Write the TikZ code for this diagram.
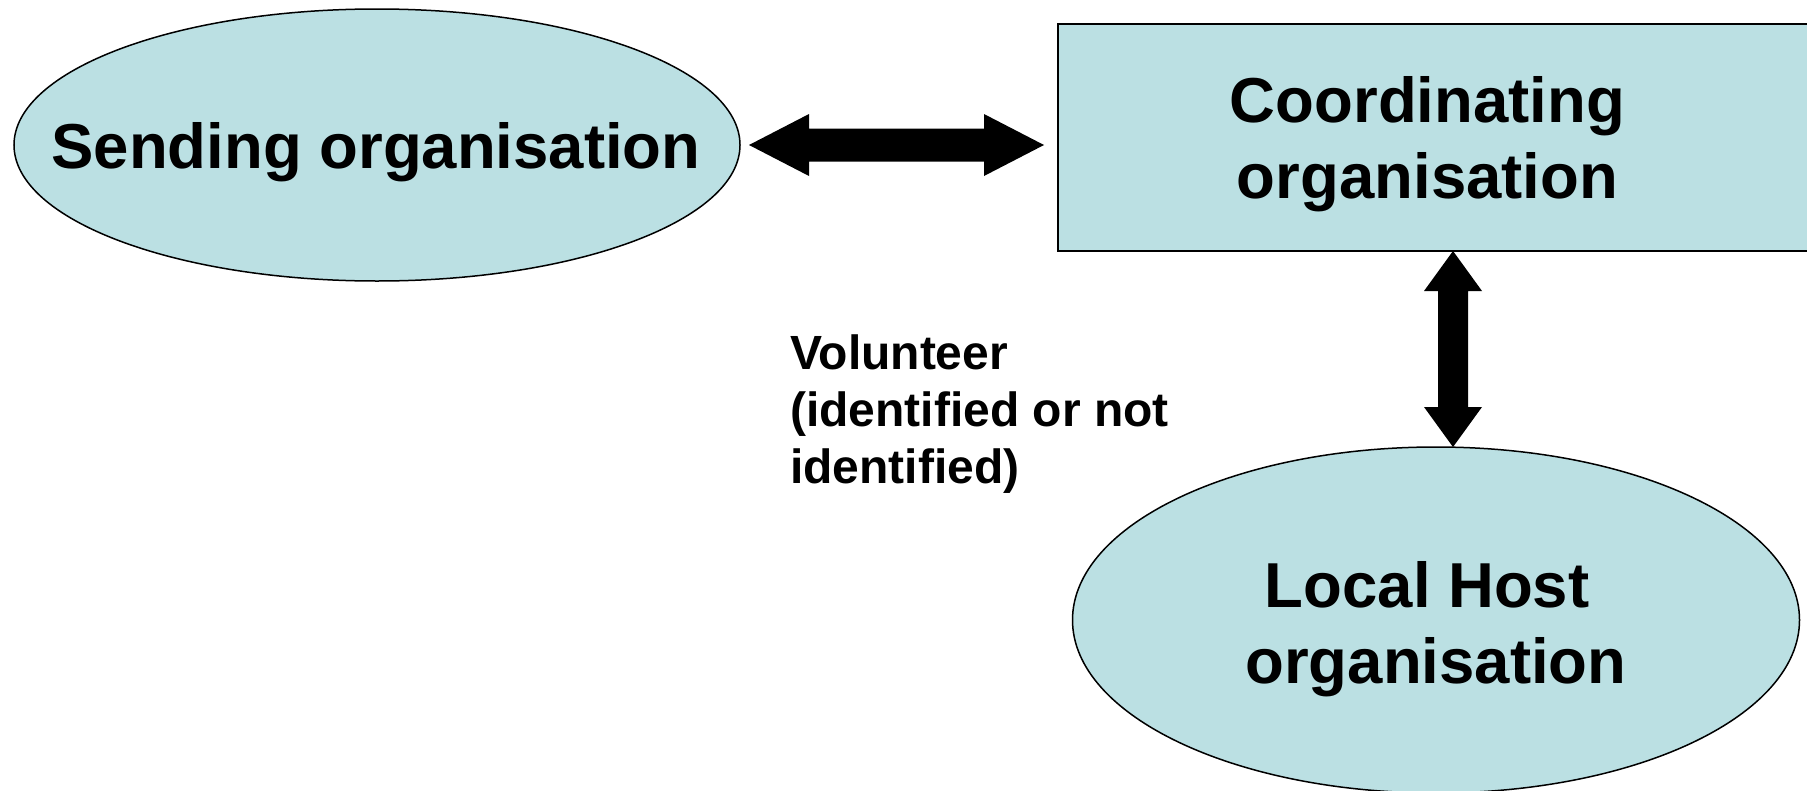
\documentclass[tikz,border=0pt]{standalone}
\usepackage{fontspec}
\setmainfont{Liberation Sans}
\usetikzlibrary{calc,shapes.geometric}
\definecolor{boxfill}{RGB}{187,224,227}
\tikzset{
  orgshape/.style={draw=black, line width=1.5pt, fill=boxfill, inner sep=0pt, outer sep=0pt},
  orgellipse/.style={orgshape, ellipse},
  orgrect/.style={orgshape, rectangle, line width=2pt},
  bigtext/.style={font=\bfseries\fontsize{63.5}{75.8}\selectfont, inner sep=0pt, align=center},
  smalltext/.style={font=\bfseries\fontsize{48}{57.4}\selectfont, inner sep=0pt, align=left},
  fatarrow/.style={fill=black, draw=none}
}
\begin{document}
\begin{tikzpicture}[x=1pt,y=-1pt]
\useasboundingbox (0,0) rectangle (1807,790);
\clip (0,0) rectangle (1807,790);
% shapes
\node[orgellipse, minimum width=726pt, minimum height=272pt] (send) at (377,145) {};
\node[orgrect, minimum width=780pt, minimum height=227pt, anchor=north west] (coord) at (1058,24) {};
\node[orgellipse, minimum width=727pt, minimum height=346pt] (host) at (1436,620) {};
% texts
\node[bigtext, text height=45.5pt, text depth=0pt] (sendtext) at (376,145.3) {Sending organisation};
\node[bigtext] (coordtext) at (1427.5,144.5) {Coordinating\\organisation};
\node[bigtext] (hosttext) at (1436,629) {Local Host\hspace*{0.278em}\\organisation};
\node[smalltext, anchor=west] (voltext) at (790,414) {Volunteer\\(identified or not\\identified)};
% horizontal double arrow: send <-> coord
\coordinate (hL) at ([xshift=9pt]send.east);
\coordinate (hR) at ($(hL -| coord.west)+(-14,0)$);
\fill[fatarrow] (hL) -- ($(hL)+(60,-31)$) -- ($(hL)+(60,-16.5)$) -- ($(hR)+(-60,-16.5)$)
  -- ($(hR)+(-60,-31)$) -- (hR) -- ($(hR)+(-60,31)$) -- ($(hR)+(-60,16.5)$)
  -- ($(hL)+(60,16.5)$) -- ($(hL)+(60,31)$) -- cycle;
% vertical double arrow: coord <-> host
\coordinate (vB) at ([xshift=17pt]host.north);
\coordinate (vT) at (vB |- coord.south);
\fill[fatarrow] (vT) -- ($(vT)+(29,40)$) -- ($(vT)+(15,40)$) -- ($(vB)+(15,-40)$)
  -- ($(vB)+(29,-40)$) -- (vB) -- ($(vB)+(-29,-40)$) -- ($(vB)+(-15,-40)$)
  -- ($(vT)+(-15,40)$) -- ($(vT)+(-29,40)$) -- cycle;
\end{tikzpicture}
\end{document}
